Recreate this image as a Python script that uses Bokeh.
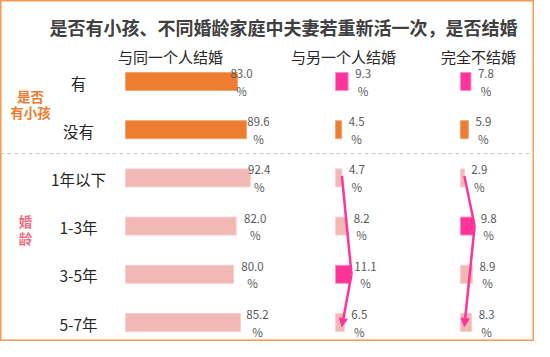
from bokeh.plotting import figure
from bokeh.models import ColumnDataSource, Range1d, Span, Arrow, NormalHead
from bokeh.core.properties import value
from bokeh.embed import file_html
from bokeh.resources import INLINE

# ---------------- data ----------------
title_text = "是否有小孩、不同婚龄家庭中夫妻若重新活一次，是否结婚"
series_names = ["与同一个人结婚", "与另一个人结婚", "完全不结婚"]
row_labels = ["有", "没有", "1年以下", "1-3年", "3-5年", "5-7年"]
group_labels = ["是否\n有小孩", "婚\n龄"]
group_sizes = [2, 4]
same_person = [83.0, 89.6, 92.4, 82.0, 80.0, 85.2]
another_person = [9.3, 4.5, 4.7, 8.2, 11.1, 6.5]
never_marry = [7.8, 5.9, 2.9, 9.8, 8.9, 8.3]

# ---------------- style / layout ----------------
W, H = 534, 341
K = 1.35          # px per percentage point
X0 = 125          # px (figure) where first column starts
Y0 = 81           # px (figure) of first row centre
ROW_PX = 48.2     # px between rows
col_offsets = [0.0, 155.6, 248.1]   # column start, in value units
FONT = "Noto Sans CJK SC"
ORANGE = "#ED7D31"
ORANGE_EDGE = "#F4A46E"
HOT = "#FF3399"
HOT_EDGE = "#FF8CC6"
LPINK = "#F2B8B6"
LPINK_EDGE = "#F7D0CE"
BORDER = "#F39A55"
label_dx_col1 = [4, 12, 9, 19, 19, 17]   # px offset of value label centre from bar end
label_dx_other = 15


def sx(screen_x):
    return (screen_x - 8 - X0) / K


def sy(screen_y):
    return (screen_y - 8 - Y0) / ROW_PX


p = figure(width=W, height=H, output_backend="svg", toolbar_location=None,
           x_range=Range1d(-X0 / K, (W - X0) / K),
           y_range=Range1d((H - Y0) / ROW_PX, -Y0 / ROW_PX),
           min_border=0)
p.axis.visible = False
p.grid.visible = False
p.background_fill_color = "white"
p.border_fill_color = "white"
p.outline_line_color = BORDER
p.outline_line_width = 2

rows = list(range(len(row_labels)))
group_of_row = []
for gi, n in enumerate(group_sizes):
    group_of_row += [gi] * n
base_fill = [ORANGE if g == 0 else LPINK for g in group_of_row]
base_edge = [ORANGE_EDGE if g == 0 else LPINK_EDGE for g in group_of_row]

all_series = [same_person, another_person, never_marry]
for ci, vals in enumerate(all_series):
    fills = list(base_fill)
    edges = list(base_edge)
    if ci > 0:
        start = 0
        for n in group_sizes:
            seg = vals[start:start + n]
            mi = start + seg.index(max(seg))
            fills[mi] = HOT
            edges[mi] = HOT_EDGE
            start += n
    off = col_offsets[ci]
    src = ColumnDataSource(dict(
        y=rows,
        left=[off] * len(vals),
        right=[off + v for v in vals],
        fill=fills, edge=edges))
    p.hbar(y="y", left="left", right="right", height=18 / ROW_PX, source=src,
           fill_color="fill", line_color="edge", line_width=1)

    dxs = label_dx_col1 if ci == 0 else [label_dx_other] * len(vals)
    lsrc = ColumnDataSource(dict(
        x=[off + v + dx / K for v, dx in zip(vals, dxs)],
        y1=[r - 8 / ROW_PX for r in rows],
        y2=[r + 9 / ROW_PX for r in rows],
        t1=["%.1f" % v for v in vals],
        t2=["%"] * len(vals)))
    for yk, tk in (("y1", "t1"), ("y2", "t2")):
        p.text(x="x", y=yk, text=tk, source=lsrc, text_font=value(FONT),
               text_font_size="11.5px", text_color="#595959",
               text_align="center", text_baseline="middle")

# trend arrows for the marriage-age rows (columns 2 and 3)
g2 = list(range(group_sizes[0], len(row_labels)))
for ci in (1, 2):
    vals = all_series[ci]
    off = col_offsets[ci]
    seg = [vals[r] for r in g2]
    rmax = g2[seg.index(max(seg))]
    first, last = g2[0], g2[-1]
    xs = [off + vals[first], off + vals[rmax] + 1 / K]
    ys = [first - 2 / ROW_PX, rmax]
    p.line(xs, ys, line_color=HOT, line_width=2.5)
    p.add_layout(Arrow(x_start=xs[-1], y_start=ys[-1],
                       x_end=off + vals[first], y_end=last + 4 / ROW_PX,
                       line_color=HOT, line_width=2.5,
                       end=NormalHead(size=8, fill_color=HOT, line_color=HOT)))

# dashed separator between the groups
p.add_layout(Span(location=sy(161), dimension="width", line_color="#C8C8C8",
                  line_dash="4 3", line_width=1))

# title
p.text(x=[sx(291)], y=[sy(34)], text=[title_text], text_font=value(FONT),
       text_font_size="18px", text_font_style="bold", text_color="#404040",
       text_align="center", text_baseline="middle")

# column headers
p.text(x=[sx(178), sx(351), sx(486)], y=[sy(64)] * 3, text=series_names,
       text_font=value(FONT), text_font_size="15px", text_color="#262626",
       text_align="center", text_baseline="middle")

# row labels
p.text(x=[sx(86)] * len(rows), y=[r + 1 / ROW_PX for r in rows], text=row_labels,
       text_font=value(FONT), text_font_size="15.5px", text_color="#262626",
       text_align="center", text_baseline="middle")

# group labels
g1_lines = group_labels[0].split("\n")
p.text(x=[sx(38)] * 2, y=[sy(103), sy(119)], text=g1_lines,
       text_font=value(FONT), text_font_size="13.5px", text_font_style="bold",
       text_color=ORANGE, text_align="center", text_baseline="middle")
g2_lines = group_labels[1].split("\n")
p.text(x=[sx(33)] * 2, y=[sy(228), sy(245)], text=g2_lines,
       text_font=value(FONT), text_font_size="13.5px", text_font_style="bold",
       text_color="#EC6F82", text_align="center", text_baseline="middle")

open("out.html", "w").write(file_html(p, INLINE))
